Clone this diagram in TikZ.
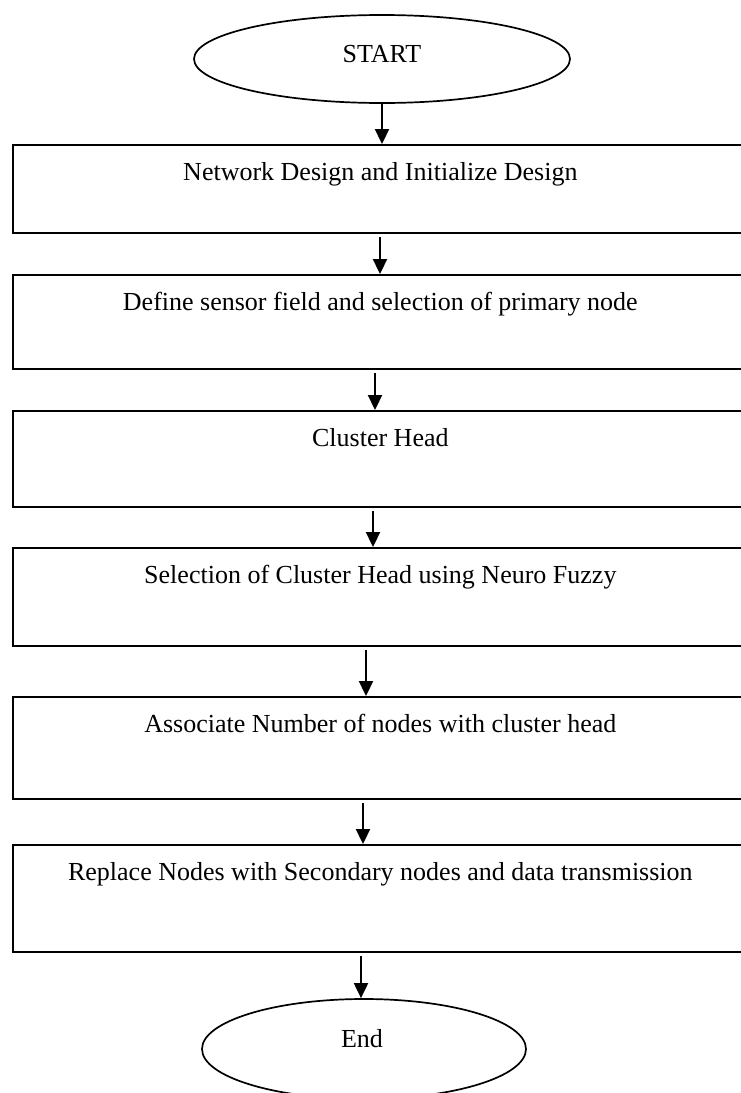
\documentclass[tikz,border=0pt]{standalone}
\usepackage{fontspec}
\setmainfont{Liberation Serif}
\usetikzlibrary{shapes.geometric,arrows.meta}
\begin{document}
\begin{tikzpicture}[x=1pt,y=-1pt,
  box/.style={draw,line width=1.9pt,rectangle,minimum width=735.3pt,inner sep=0pt},
  oval/.style={draw,line width=1.7pt,ellipse,inner sep=0pt},
  lbl/.style={anchor=base,inner sep=0pt,font=\fontsize{26}{30}\selectfont},
  arr/.style={line width=1.9pt,-{Triangle[width=14pt,length=15pt]}}]
\useasboundingbox (0,0) rectangle (741,1093);
\clip (0,0) rectangle (741,1093);
% x positions of the arrows
\coordinate (a1) at (382,0);
\coordinate (a2) at (380,0);
\coordinate (a3) at (375,0);
\coordinate (a4) at (373,0);
\coordinate (a5) at (366,0);
\coordinate (a6) at (363,0);
\coordinate (a7) at (361,0);
% terminals
\node[oval,minimum width=376pt,minimum height=88pt] (start) at (382,59) {};
\node[lbl] (tstart) at ([yshift=-3pt]start.center) {START};
\node[oval,minimum width=324pt,minimum height=100pt] (stop) at (364,1049) {};
\node[lbl] (tstop) at ([xshift=-2pt,yshift=2pt]stop.center) {End};
% boxes
\node[box,minimum height=88pt] (b1) at (380.35,189) {};
\node[box,minimum height=94pt] (b2) at (380.35,322) {};
\node[box,minimum height=96pt] (b3) at (380.35,459) {};
\node[box,minimum height=98pt] (b4) at (380.35,597) {};
\node[box,minimum height=102pt] (b5) at (380.35,748) {};
\node[box,minimum height=107pt] (b6) at (380.35,898.5) {};
% labels
\node[lbl] (t1) at ([yshift=-36pt]b1.north) {Network Design and Initialize Design};
\node[lbl] (t2) at ([yshift=-36pt]b2.north) {Define sensor field and selection of primary node};
\node[lbl] (t3) at ([yshift=-36pt]b3.north) {Cluster Head};
\node[lbl] (t4) at ([yshift=-36pt]b4.north) {Selection of Cluster Head using Neuro Fuzzy};
\node[lbl] (t5) at ([yshift=-36pt]b5.north) {Associate Number of nodes with cluster head};
\node[lbl] (t6) at ([yshift=-36pt]b6.north) {Replace Nodes with Secondary nodes and data transmission};
% connectors
\draw[arr] (start.south -| a1) -- (b1.north -| a1);
\draw[arr,shorten <=3pt] (b1.south -| a2) -- (b2.north -| a2);
\draw[arr,shorten <=3pt] (b2.south -| a3) -- (b3.north -| a3);
\draw[arr,shorten <=3pt] (b3.south -| a4) -- (b4.north -| a4);
\draw[arr,shorten <=3pt] (b4.south -| a5) -- (b5.north -| a5);
\draw[arr,shorten <=3pt] (b5.south -| a6) -- (b6.north -| a6);
\draw[arr,shorten <=3pt] (b6.south -| a7) -- (stop.north -| a7);
\end{tikzpicture}
\end{document}
